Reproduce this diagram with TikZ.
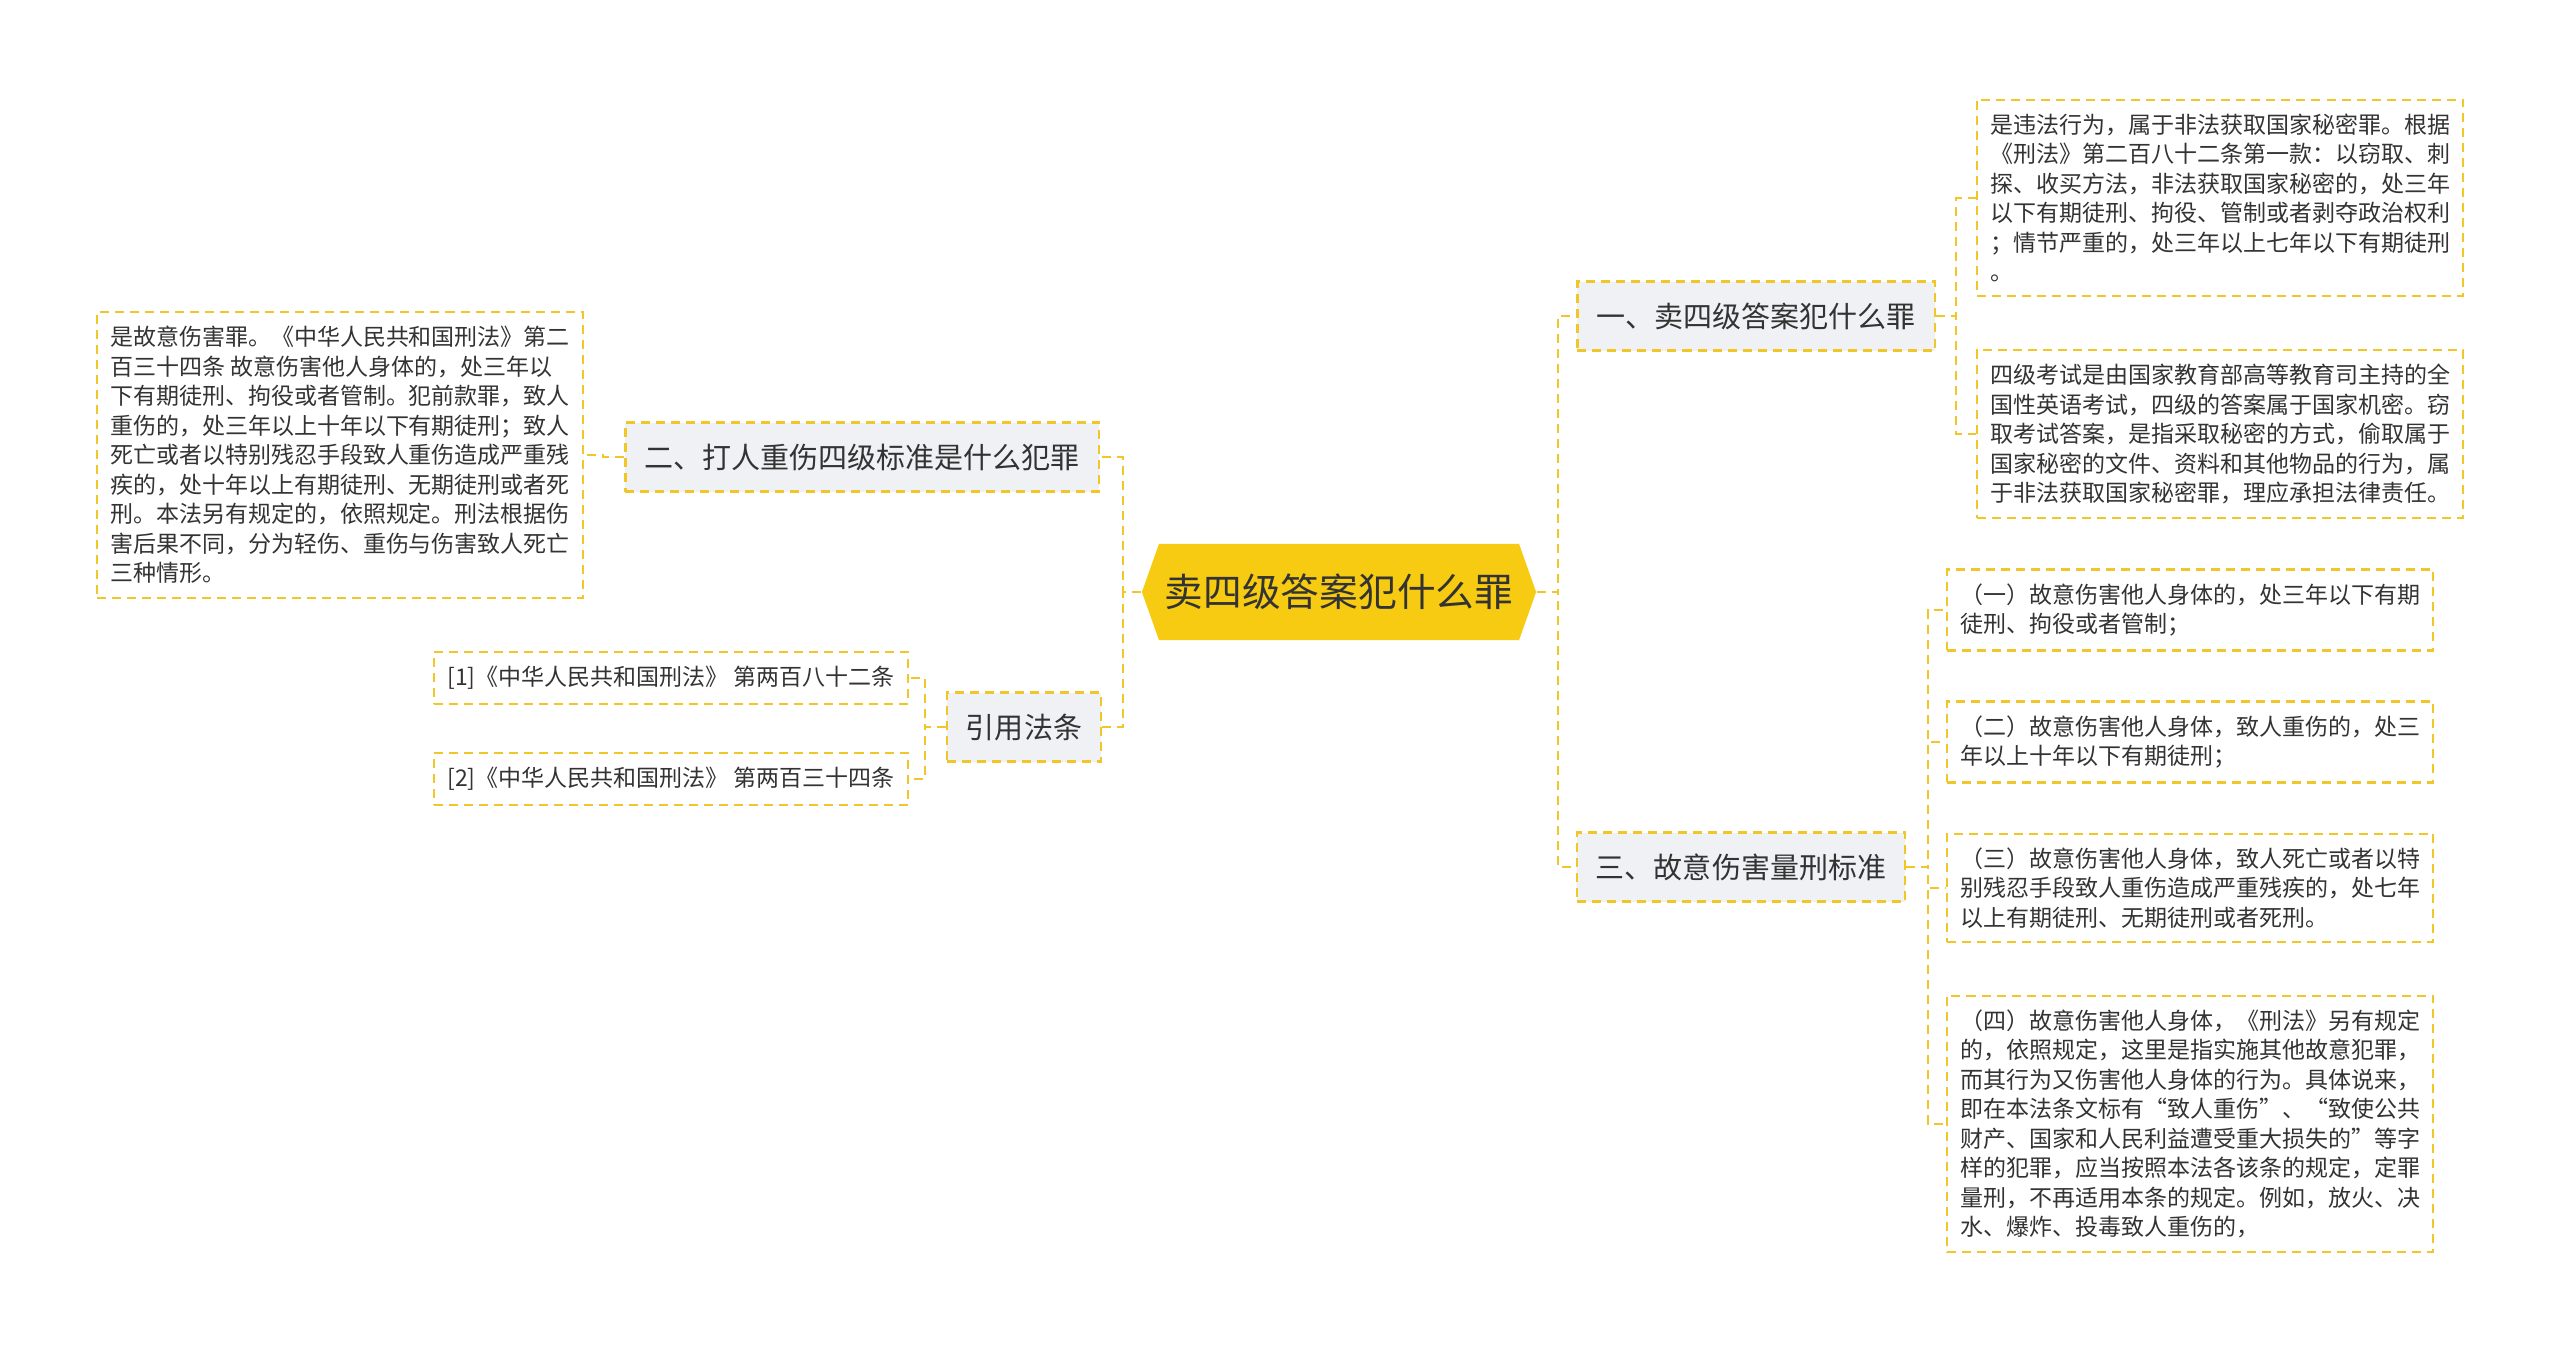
\documentclass[tikz,border=0pt]{standalone}
\usepackage{fontspec}
\setmainfont{Noto Sans CJK SC}
\usepackage{xcolor}
\usetikzlibrary{shapes.symbols}
\definecolor{gold}{HTML}{F0C628}
\definecolor{hexgold}{HTML}{F6CB12}
\definecolor{boxgrey}{HTML}{EFF1F4}
\definecolor{ink}{HTML}{333333}

\begin{document}
\begin{tikzpicture}[x=0.01cm, y=-0.01cm,
  dashline/.style={draw=gold, line width=0.022cm, dash pattern=on 0.09cm off 0.06cm},
  root/.style={signal, signal to=west and east, signal pointer angle=141, fill=hexgold, text=ink,
    font=\fontsize{11}{13}\selectfont, minimum height=0.96cm, inner xsep=0.06cm},
  topic/.style={dashline, fill=boxgrey, text=ink, font=\fontsize{8.25}{10}\selectfont,
    minimum height=0.69cm, inner xsep=0.19cm},
  leaf/.style={dashline, fill=white, text=ink, align=left, font=\fontsize{6.54}{8.39}\selectfont,
    inner xsep=0.13cm, inner ysep=0.14cm, minimum width=4.86cm},
  link/.style={dashline}
]
\useasboundingbox (0,0) rectangle (2560,1353);
\fill[white] (0,0) rectangle (2560,1353);
% centre
\node[root] (r) at (1339,592) {卖四级答案犯什么罪};
% first level
\node[topic] (a1) at (1756,316) {一、卖四级答案犯什么罪};
\node[topic] (a3) at (1741,867) {三、故意伤害量刑标准};
\node[topic] (a2) at (862,457) {二、打人重伤四级标准是什么犯罪};
\node[topic] (a4) at (1024,727) {引用法条};
% leaves right
\node[leaf] (c1) at (2220,198) {是违法行为，属于非法获取国家秘密罪。根据\\《刑法》第二百八十二条第一款：以窃取、刺\\探、收买方法，非法获取国家秘密的，处三年\\以下有期徒刑、拘役、管制或者剥夺政治权利\\；情节严重的，处三年以上七年以下有期徒刑\\。};
\node[leaf] (c2) at (2220,434) {四级考试是由国家教育部高等教育司主持的全\\国性英语考试，四级的答案属于国家机密。窃\\取考试答案，是指采取秘密的方式，偷取属于\\国家秘密的文件、资料和其他物品的行为，属\\于非法获取国家秘密罪，理应承担法律责任。};
\node[leaf] (d1) at (2190,610) {（一）故意伤害他人身体的，处三年以下有期\\徒刑、拘役或者管制；};
\node[leaf] (d2) at (2190,742) {（二）故意伤害他人身体，致人重伤的，处三\\年以上十年以下有期徒刑；};
\node[leaf] (d3) at (2190,888) {（三）故意伤害他人身体，致人死亡或者以特\\别残忍手段致人重伤造成严重残疾的，处七年\\以上有期徒刑、无期徒刑或者死刑。};
\node[leaf] (d4) at (2190,1124) {（四）故意伤害他人身体，《刑法》另有规定\\的，依照规定，这里是指实施其他故意犯罪，\\而其行为又伤害他人身体的行为。具体说来，\\即在本法条文标有“致人重伤”、“致使公共\\财产、国家和人民利益遭受重大损失的”等字\\样的犯罪，应当按照本法各该条的规定，定罪\\量刑，不再适用本条的规定。例如，放火、决\\水、爆炸、投毒致人重伤的，};
% leaves left
\node[leaf] (e1) at (340,455) {是故意伤害罪。《中华人民共和国刑法》第二\\百三十四条 故意伤害他人身体的，处三年以\\下有期徒刑、拘役或者管制。犯前款罪，致人\\重伤的，处三年以上十年以下有期徒刑；致人\\死亡或者以特别残忍手段致人重伤造成严重残\\疾的，处十年以上有期徒刑、无期徒刑或者死\\刑。本法另有规定的，依照规定。刑法根据伤\\害后果不同，分为轻伤、重伤与伤害致人死亡\\三种情形。};
\node[leaf, minimum width=4.74cm] (f1) at (671,678) {[1]《中华人民共和国刑法》 第两百八十二条};
\node[leaf, minimum width=4.74cm] (f2) at (671,779) {[2]《中华人民共和国刑法》 第两百三十四条};
% links
\draw[link] (r.east) -- ++(21,0) |- (a1.west);
\draw[link] (r.east) -- ++(21,0) |- (a3.west);
\draw[link] (r.west) -- ++(-18,0) |- (a2.east);
\draw[link] (r.west) -- ++(-18,0) |- (a4.east);
\draw[link] (a1.east) -- ++(20,0) |- (c1.west);
\draw[link] (a1.east) -- ++(20,0) |- (c2.west);
\draw[link] (a3.east) -- ++(22,0) |- (d1.west);
\draw[link] (a3.east) -- ++(22,0) |- (d2.west);
\draw[link] (a3.east) -- ++(22,0) |- (d3.west);
\draw[link] (a3.east) -- ++(22,0) |- (d4.west);
\draw[link] (a2.west) -- ++(-21,0) |- (e1.east);
\draw[link] (a4.west) -- ++(-21,0) |- (f1.east);
\draw[link] (a4.west) -- ++(-21,0) |- (f2.east);
\end{tikzpicture}
\end{document}
